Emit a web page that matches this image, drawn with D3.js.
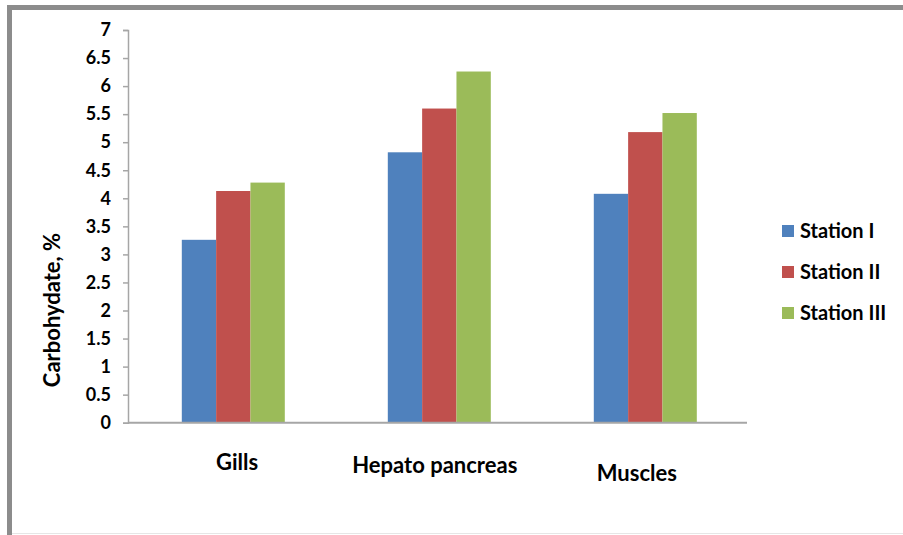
<!DOCTYPE html>
<html>
<head>
<meta charset="utf-8">
<script src="https://cdn.jsdelivr.net/npm/d3@7"></script>
<style>
  html, body { margin: 0; padding: 0; background: #fff; }
  svg { display: block; }
  text { font-family: Lato, "Open Sans", sans-serif; font-weight: bold; fill: #000; }
</style>
</head>
<body>
<svg id="chart" width="903" height="535"></svg>
<script>
// Carbohydrate content by tissue and sampling station
const categories = ["Gills", "Hepato pancreas", "Muscles"];
const seriesNames = ["Station I", "Station II", "Station III"];
const stationI   = [3.26, 4.82, 4.08];
const stationII  = [4.13, 5.60, 5.18];
const stationIII = [4.28, 6.26, 5.52];
const seriesColors = ["#4F81BD", "#C0504D", "#9BBB59"];
const yTicks = [0, 0.5, 1, 1.5, 2, 2.5, 3, 3.5, 4, 4.5, 5, 5.5, 6, 6.5, 7];
const yTitle = "Carbohydate, %";

const seriesValues = [stationI, stationII, stationIII];
const rows = categories.map((c, i) => ({
  category: c,
  values: seriesNames.map((s, j) => ({ series: s, value: seriesValues[j][i] }))
}));

const svg = d3.select("#chart");

// outer frame
svg.append("rect").attr("x", 0).attr("y", 0).attr("width", 903).attr("height", 535).attr("fill", "#fff");
svg.append("line").attr("x1", 7).attr("x2", 903).attr("y1", 7.5).attr("y2", 7.5)
  .attr("stroke", "#8c8c8c").attr("stroke-width", 5);
svg.append("line").attr("x1", 9.5).attr("x2", 9.5).attr("y1", 5).attr("y2", 535)
  .attr("stroke", "#8c8c8c").attr("stroke-width", 5);
svg.append("line").attr("x1", 12).attr("x2", 903).attr("y1", 533.5).attr("y2", 533.5)
  .attr("stroke", "#e6e6e6").attr("stroke-width", 1);

const plot = { left: 128, right: 747, top: 30, bottom: 422.7 };

const x0 = d3.scaleBand().domain(categories).range([plot.left + 2.3, plot.right + 1.3])
  .paddingInner(0.5).paddingOuter(0.25);
const x1 = d3.scaleBand().domain(seriesNames).range([0, x0.bandwidth()]);
const y = d3.scaleLinear().domain([0, 7]).range([plot.bottom, plot.top]);

// bars
const groups = svg.append("g").selectAll("g").data(rows).join("g")
  .attr("transform", d => `translate(${x0(d.category)},0)`);
groups.selectAll("rect").data(d => d.values).join("rect")
  .attr("x", d => x1(d.series))
  .attr("y", d => y(d.value))
  .attr("width", x1.bandwidth())
  .attr("height", d => y(0) - y(d.value))
  .attr("fill", (d, i) => seriesColors[i]);

// y axis
const yAxis = svg.append("g").attr("transform", `translate(${plot.left},0)`)
  .call(d3.axisLeft(y).tickValues(yTicks).tickSize(5).tickPadding(12).tickFormat(d3.format("")));
yAxis.select(".domain").attr("stroke", "#a6a6a6").attr("stroke-width", 1.5);
yAxis.selectAll(".tick line").attr("stroke", "#a6a6a6").attr("stroke-width", 1.5);
yAxis.selectAll(".tick text").attr("font-size", 18).attr("font-family", "Lato, sans-serif")
  .attr("font-weight", "bold").attr("fill", "#000");

// x axis baseline
svg.append("line").attr("x1", plot.left).attr("x2", plot.right)
  .attr("y1", y(0)).attr("y2", y(0)).attr("stroke", "#a6a6a6").attr("stroke-width", 2);

// category labels (individually offset text boxes)
const labelOffsets = [[3.8, 470], [-4.5, 473], [-8.5, 481]];
svg.append("g").selectAll("text").data(categories).join("text")
  .attr("x", (d, i) => x0(d) + x0.bandwidth() / 2 + labelOffsets[i][0])
  .attr("y", (d, i) => labelOffsets[i][1])
  .attr("text-anchor", "middle")
  .attr("font-size", 22)
  .text(d => d);

// y axis title
svg.append("text")
  .attr("transform", "translate(60,310) rotate(-90)")
  .attr("text-anchor", "middle")
  .attr("font-size", 22)
  .text(yTitle);

// legend
const legend = svg.append("g").selectAll("g").data(seriesNames).join("g")
  .attr("transform", (d, i) => `translate(782,${231 + i * 41})`);
legend.append("rect").attr("x", 0).attr("y", -6).attr("width", 12).attr("height", 12)
  .attr("fill", (d, i) => seriesColors[i]);
legend.append("text").attr("x", 18).attr("y", 0).attr("dy", "0.36em")
  .attr("font-size", 20).text(d => d);
</script>
</body>
</html>
